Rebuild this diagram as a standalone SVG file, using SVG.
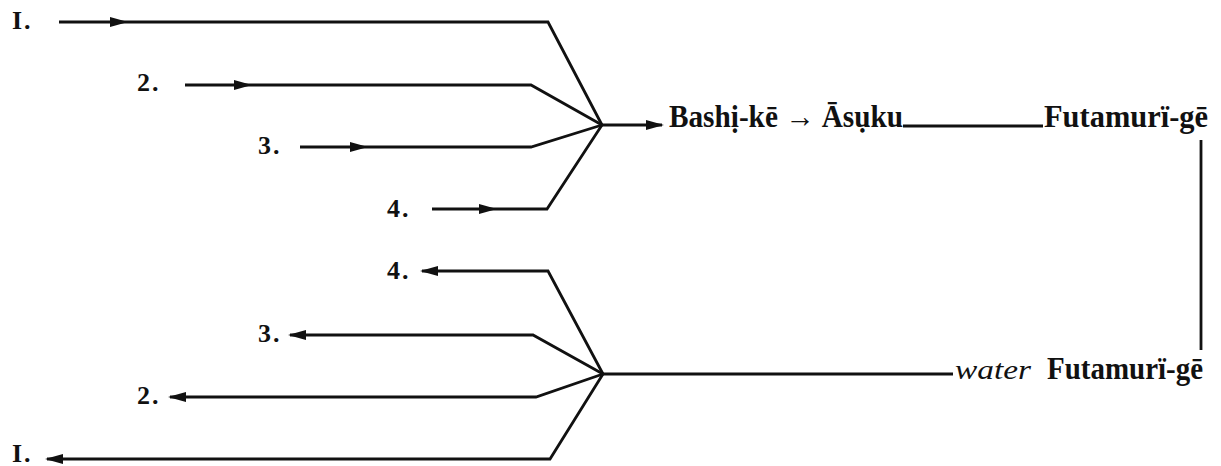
<svg xmlns="http://www.w3.org/2000/svg" width="1221" height="466" viewBox="0 0 1221 466">
<defs>
<style>
.ln{fill:none;stroke:#111;stroke-width:2.8;stroke-linejoin:miter}
.num{font-family:"Liberation Serif",serif;font-weight:bold;font-size:26px;fill:#111;letter-spacing:2px}
.main{font-family:"Liberation Serif",serif;font-weight:bold;font-size:32px;fill:#111}
.it{font-family:"Liberation Serif",serif;font-style:italic;font-size:27px;fill:#111}
</style>
<marker id="arr" markerUnits="userSpaceOnUse" markerWidth="20" markerHeight="12" refX="16" refY="6" orient="auto">
<path d="M0,1 L18,6 L0,11 Z" fill="#111"/>
</marker>
</defs>
<rect width="1221" height="466" fill="#fff"/>

<g id="labels-in">
<text class="num" x="12" y="29">I.</text>
<text class="num" x="137" y="91">2.</text>
<text class="num" x="258" y="154">3.</text>
<text class="num" x="387" y="217">4.</text>
</g>
<g id="labels-out">
<text class="num" x="387" y="279">4.</text>
<text class="num" x="258" y="342">3.</text>
<text class="num" x="137" y="404">2.</text>
<text class="num" x="12" y="462">I.</text>
</g>

<g id="connectors">
<path class="ln" d="M59,22 L126,22" marker-end="url(#arr)"/>
<path class="ln" d="M126,22 L548,22 L602,125"/>
<path class="ln" d="M185,85 L250,85" marker-end="url(#arr)"/>
<path class="ln" d="M250,85 L531,85 L602,125"/>
<path class="ln" d="M300,147 L366,147" marker-end="url(#arr)"/>
<path class="ln" d="M366,147 L531,147 L602,125"/>
<path class="ln" d="M432,209 L495,209" marker-end="url(#arr)"/>
<path class="ln" d="M495,209 L547,209 L602,125"/>
<path class="ln" d="M602,125 L662,125" marker-end="url(#arr)"/>
<path class="ln" d="M903,126 L1043,126"/>
<path class="ln" d="M1201,140 L1201,350"/>
<path class="ln" d="M953,374 L603,374"/>
<path class="ln" d="M603,374 L548,271 L422,271" marker-end="url(#arr)"/>
<path class="ln" d="M603,374 L533,335 L290,335" marker-end="url(#arr)"/>
<path class="ln" d="M603,374 L536,397 L170,397" marker-end="url(#arr)"/>
<path class="ln" d="M603,374 L550,459 L47,459" marker-end="url(#arr)"/>
</g>

<g id="node-bashike">
<text class="main" x="669" y="127" textLength="234" lengthAdjust="spacingAndGlyphs">Bashị-kē → Āsụku</text>
</g>
<g id="node-futamurige">
<text class="main" x="1044" y="127" textLength="164" lengthAdjust="spacingAndGlyphs">Futamurï-gē</text>
</g>
<g id="node-water-futamurige">
<text class="it" x="955" y="379" textLength="76" lengthAdjust="spacingAndGlyphs">water</text>
<text class="main" x="1047" y="379" textLength="156" lengthAdjust="spacingAndGlyphs">Futamurï-gē</text>
</g>
</svg>
